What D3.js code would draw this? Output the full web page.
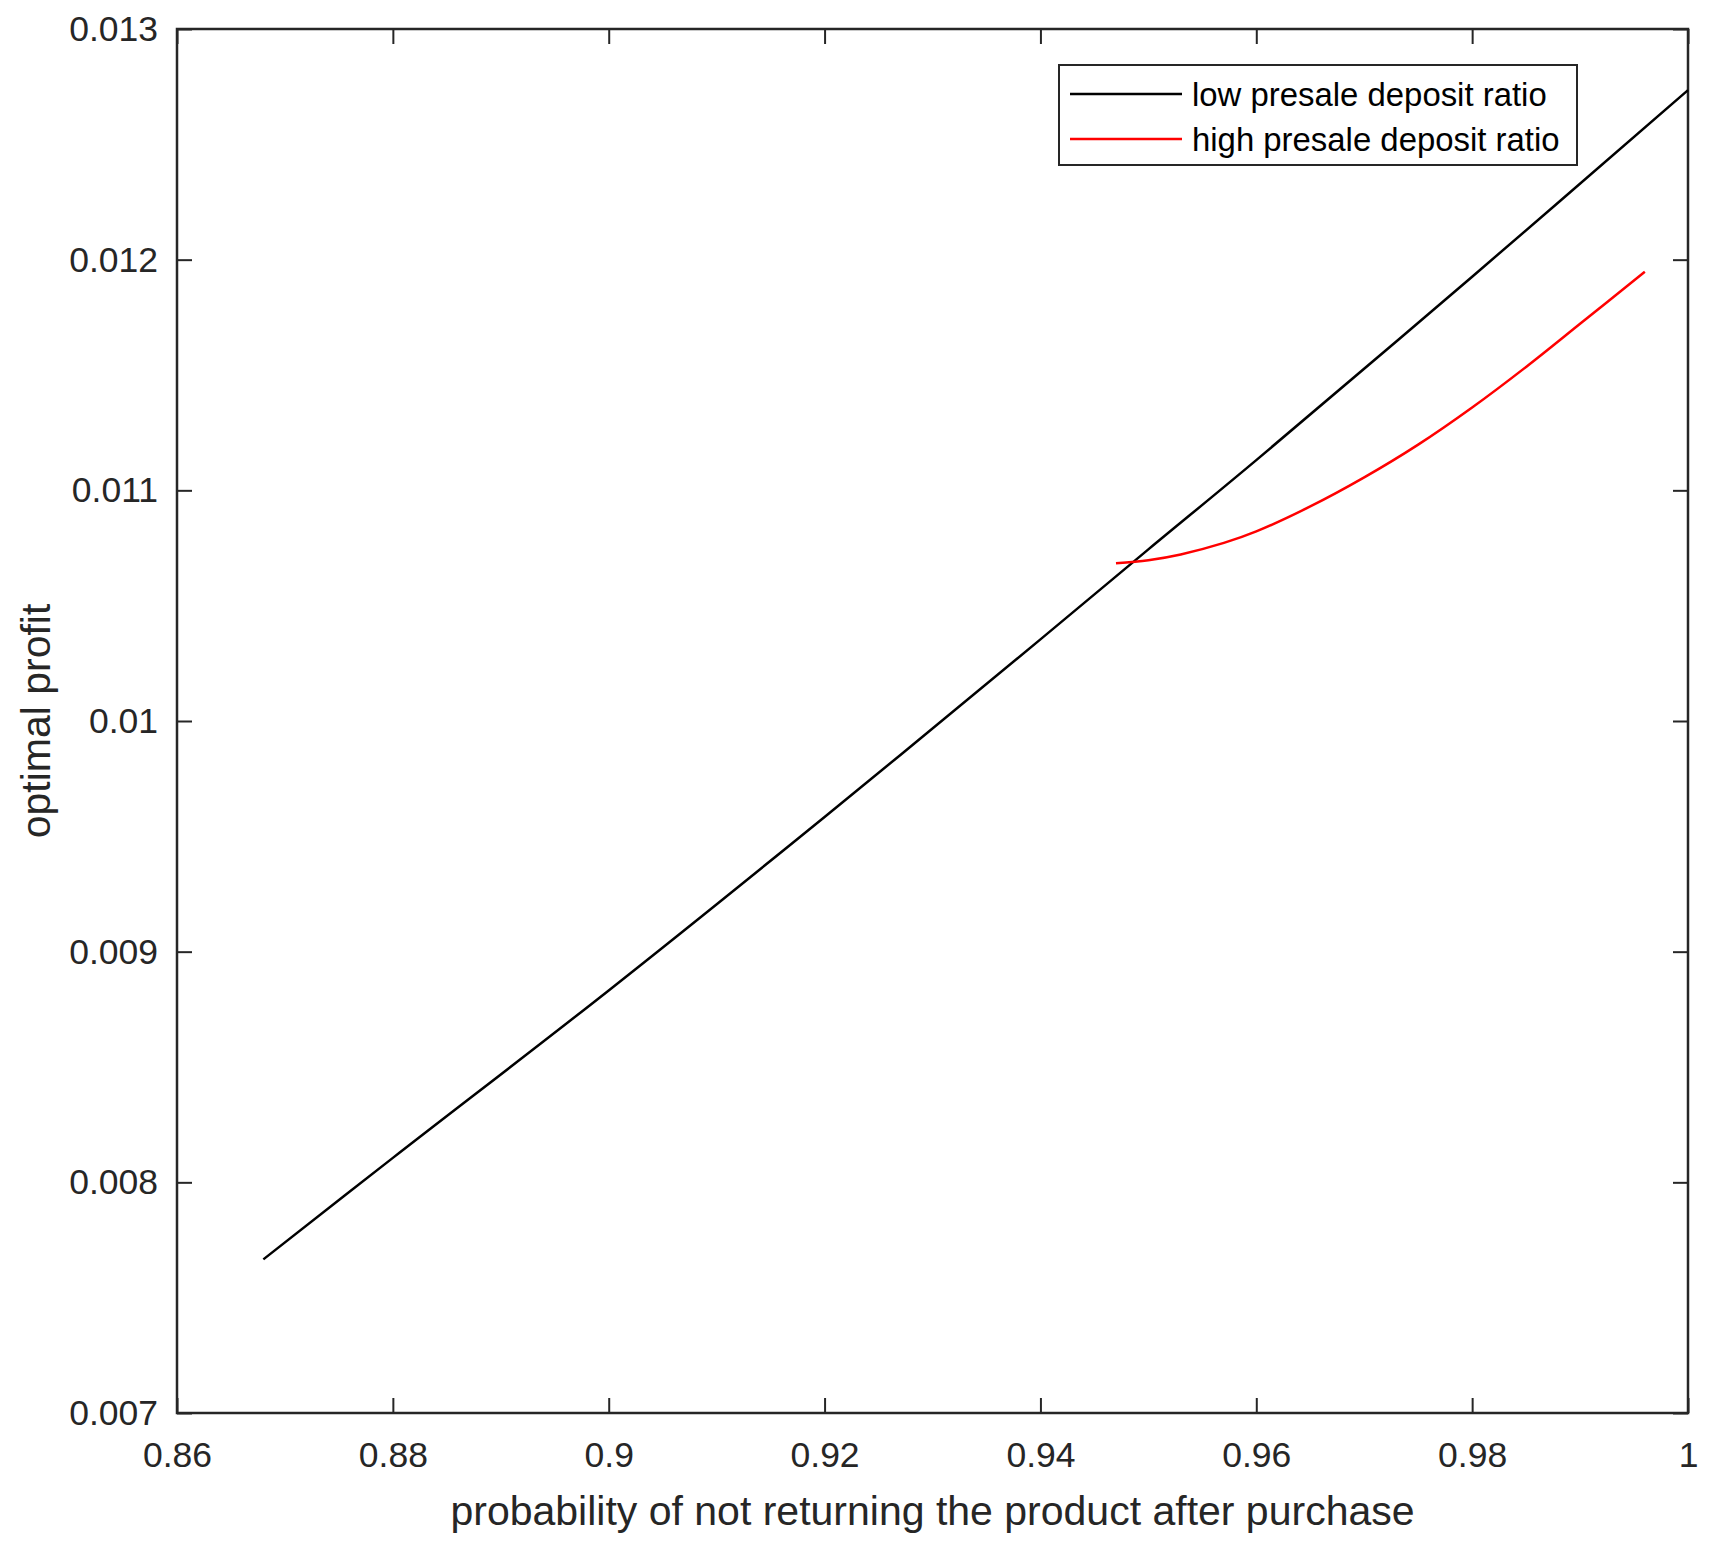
<!DOCTYPE html>
<html>
<head>
<meta charset="utf-8">
<script src="https://cdn.jsdelivr.net/npm/d3@7"></script>
<style>
  body { margin: 0; background: #fff; }
  text { font-family: 'Liberation Sans', Arial, sans-serif; fill: #262626; }
</style>
</head>
<body>
<script>
// data
var lowX = [0.868, 0.88, 0.90, 0.92, 0.94, 0.95, 0.96, 0.98, 1.0]
var lowY = [0.007666, 0.008106, 0.008832, 0.009584, 0.010354, 0.010744, 0.011131, 0.011926, 0.012735]
var highX = [0.947, 0.950, 0.953, 0.957, 0.960, 0.965, 0.970, 0.975, 0.980, 0.985, 0.990, 0.996]
var highY = [0.010684, 0.010697, 0.010722, 0.010772, 0.010822, 0.010930, 0.011056, 0.011198, 0.011359, 0.011535, 0.011722, 0.011948]
var xTicks = [0.86, 0.88, 0.90, 0.92, 0.94, 0.96, 0.98, 1.0]
var xTickLabels = ['0.86', '0.88', '0.9', '0.92', '0.94', '0.96', '0.98', '1']
var yTicks = [0.007, 0.008, 0.009, 0.010, 0.011, 0.012, 0.013]
var yTickLabels = ['0.007', '0.008', '0.009', '0.01', '0.011', '0.012', '0.013']
var seriesNames = ['low presale deposit ratio', 'high presale deposit ratio']
var seriesColors = ['#000000', '#ff0000']

var W = 1717, H = 1545
var margin = { top: 29, right: 29, bottom: 132, left: 177 }
var w = W - margin.left - margin.right
var h = H - margin.top - margin.bottom
var axisColor = '#262626'

var xScale = d3.scaleLinear().domain([0.86, 1]).range([0, w])
var yScale = d3.scaleLinear().domain([0.007, 0.013]).range([h, 0])

var svg = d3.select('body').append('svg')
    .attr('width', W)
    .attr('height', H)
  .append('g')
    .attr('transform', 'translate(' + margin.left + ',' + margin.top + ')')

// axes, ticks pointing inward like matlab
function styleAxis(g) {
  g.select('.domain').remove()
  g.selectAll('.tick line').attr('stroke', axisColor).attr('stroke-width', 2)
  g.selectAll('.tick text').attr('fill', axisColor).style('font-size', '35.5px')
}
svg.append('g')
    .attr('transform', 'translate(0,' + h + ')')
    .call(d3.axisBottom(xScale).tickValues(xTicks)
      .tickFormat(function (d, i) { return xTickLabels[i] })
      .tickSizeInner(-15).tickSizeOuter(0).tickPadding(29))
    .call(styleAxis)
svg.append('g')
    .call(d3.axisTop(xScale).tickValues(xTicks).tickFormat('')
      .tickSizeInner(-15).tickSizeOuter(0))
    .call(styleAxis)
svg.append('g')
    .call(d3.axisLeft(yScale).tickValues(yTicks)
      .tickFormat(function (d, i) { return yTickLabels[i] })
      .tickSizeInner(-15).tickSizeOuter(0).tickPadding(19))
    .call(styleAxis)
svg.append('g')
    .attr('transform', 'translate(' + w + ',0)')
    .call(d3.axisRight(yScale).tickValues(yTicks).tickFormat('')
      .tickSizeInner(-15).tickSizeOuter(0))
    .call(styleAxis)

// box
svg.append('rect')
    .attr('width', w)
    .attr('height', h)
    .attr('fill', 'none')
    .attr('stroke', axisColor)
    .attr('stroke-width', 2.5)

// lines
var line = d3.line()
    .x(function (d) { return xScale(d[0]) })
    .y(function (d) { return yScale(d[1]) })
    .curve(d3.curveCatmullRom)

var series = [d3.zip(lowX, lowY), d3.zip(highX, highY)]
svg.selectAll('.series')
    .data(series)
    .enter()
  .append('path')
    .attr('class', 'series')
    .attr('d', line)
    .attr('fill', 'none')
    .attr('stroke', function (d, i) { return seriesColors[i] })
    .attr('stroke-width', 2.5)

// labels
svg.append('text')
    .attr('x', w / 2)
    .attr('y', 1525 - margin.top)
    .attr('text-anchor', 'middle')
    .style('font-size', '41px')
    .text('probability of not returning the product after purchase')
svg.append('text')
    .attr('transform', 'translate(' + (50 - margin.left) + ',' + (h / 2) + ') rotate(-90)')
    .attr('text-anchor', 'middle')
    .style('font-size', '41px')
    .text('optimal profit')

// legend
var legend = svg.append('g')
    .attr('transform', 'translate(' + (1059 - margin.left) + ',' + (65 - margin.top) + ')')
legend.append('rect')
    .attr('width', 518)
    .attr('height', 100)
    .attr('fill', '#fff')
    .attr('stroke', axisColor)
    .attr('stroke-width', 2)
var items = legend.selectAll('.item')
    .data(seriesNames)
    .enter()
  .append('g')
    .attr('class', 'item')
    .attr('transform', function (d, i) { return 'translate(0,' + (29 + i * 45) + ')' })
items.append('line')
    .attr('x1', 11).attr('x2', 123)
    .attr('stroke', function (d, i) { return seriesColors[i] })
    .attr('stroke-width', 2.5)
items.append('text')
    .attr('x', 133)
    .attr('dy', '0.35em')
    .style('font-size', '32.9px')
    .style('fill', '#000')
    .text(function (d) { return d })
</script>
</body>
</html>
